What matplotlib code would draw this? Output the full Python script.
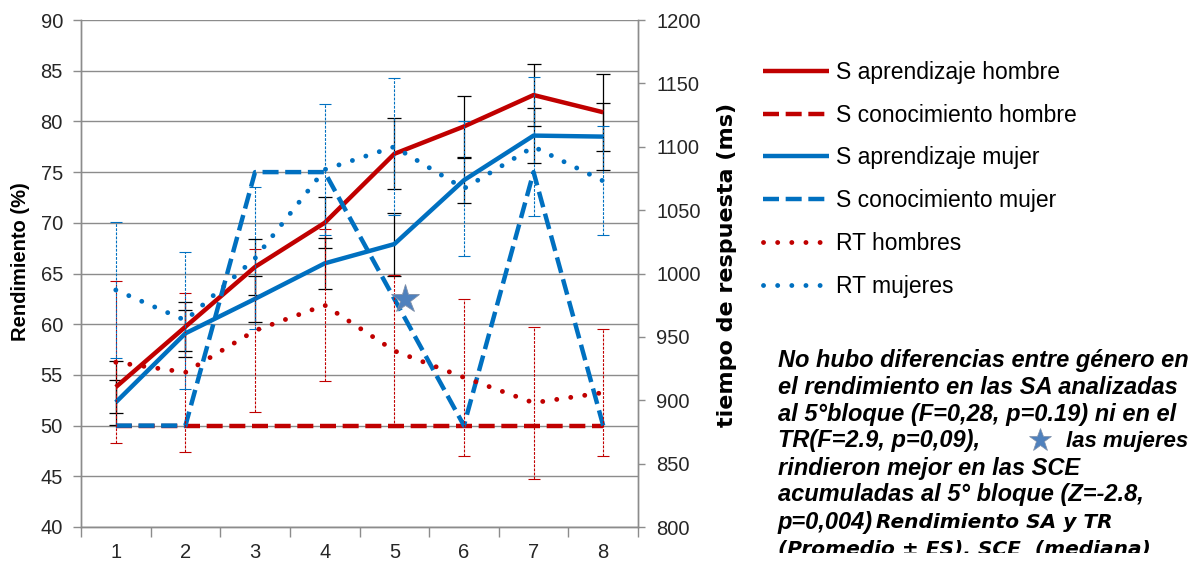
import matplotlib
matplotlib.use("Agg")
import matplotlib.pyplot as plt
from matplotlib.lines import Line2D
from matplotlib.transforms import Bbox, TransformedBbox

plt.rcParams['font.family'] = ['Liberation Sans', 'DejaVu Sans']

# --- data ------------------------------------------------------------------
bloques = [1, 2, 3, 4, 5, 6, 7, 8]

sa_hombre = [53.8, 59.75, 65.65, 70.0, 76.8, 79.5, 82.6, 80.9]
sa_hombre_es = [2.6, 2.4, 2.75, 2.5, 3.5, 3.0, 3.1, 3.8]
sce_hombre = [50, 50, 50, 50, 50, 50, 50, 50]
sa_mujer = [52.3, 59.1, 62.5, 66.0, 67.9, 74.2, 78.6, 78.5]
sa_mujer_es = [2.2, 2.3, 2.3, 2.5, 3.1, 2.2, 2.7, 3.3]
sce_mujer = [50, 50, 75, 75, 62.5, 50, 75, 50]

# tiempo de respuesta (ms), eje derecho
rt_hombres = [930, 922, 955, 975, 939, 918, 898, 906]
rt_hombres_es = [64, 63, 64, 60, 60, 62, 60, 50]
rt_mujeres = [987, 963, 1012, 1082, 1100, 1067, 1100, 1073]
rt_mujeres_es = [54, 54, 56, 52, 54, 53, 55, 43]

star_bloque = 5.16
star_ms = 980

nota = [
    "No hubo diferencias entre género en",
    "el rendimiento en las SA analizadas",
    "al 5°bloque (F=0,28, p=0.19) ni en el",
    "TR(F=2.9, p=0,09),",
    "rindieron mejor en las SCE",
    "acumuladas al 5° bloque (Z=-2.8,",
    "p=0,004)",
]

RED = '#C00000'
BLUE = '#0070C0'
GRAY = '#8C8C8C'
DOTS = (0, (0.01, 2.9))

W, H = 1192, 564


def px(x, y):
    return x / W, 1 - y / H


fig = plt.figure(figsize=(W / 100, H / 100), dpi=100)
ax = fig.add_axes([81 / W, 1 - 527 / H, (638 - 81) / W, (527 - 20) / H])
ax2 = ax.twinx()

# error bars (black) for S aprendizaje
for vals, errs in [(sa_hombre, sa_hombre_es), (sa_mujer, sa_mujer_es)]:
    ax.errorbar(bloques, vals, yerr=errs, fmt='none', ecolor='black',
                elinewidth=0.9, capsize=5, capthick=0.9, zorder=2)

l1, = ax.plot(bloques, sa_hombre, color=RED, lw=3.2, zorder=3,
              solid_capstyle='butt', label='S aprendizaje hombre')
l2, = ax.plot(bloques, sce_hombre, color=RED, lw=3.2, zorder=3,
              dashes=(3.6, 1.5), label='S conocimiento hombre')
l3, = ax.plot(bloques, sa_mujer, color=BLUE, lw=3.2, zorder=3,
              solid_capstyle='butt', label='S aprendizaje mujer')
l4, = ax.plot(bloques, sce_mujer, color=BLUE, lw=3.2, zorder=3,
              dashes=(3.6, 1.5), label='S conocimiento mujer')

# RT on the right axis
for vals, errs, c in [(rt_hombres, rt_hombres_es, RED), (rt_mujeres, rt_mujeres_es, BLUE)]:
    eb = ax2.errorbar(bloques, vals, yerr=errs, fmt='none', ecolor=c,
                      elinewidth=0.8, capsize=4.5, capthick=0.8, zorder=2)
    eb[2][0].set_linestyle((0, (2.5, 1.2)))

l5, = ax2.plot(bloques, rt_hombres, color=RED, lw=3.5, zorder=3,
               linestyle=DOTS, dash_capstyle='round', label='RT hombres')
l6, = ax2.plot(bloques, rt_mujeres, color=BLUE, lw=3.5, zorder=3,
               linestyle=DOTS, dash_capstyle='round', label='RT mujeres')

ax2.plot([star_bloque], [star_ms], marker='*', ms=21, color='#4F81BD',
         mec='#7F8FA8', mew=0.6, zorder=5)

# axes styling
ax.set_xlim(0.5, 8.5)
ax.set_ylim(40, 90)
ax.set_yticks(range(40, 91, 5))
ax2.set_ylim(800, 1200)
ax2.set_yticks(range(800, 1201, 50))
ax.grid(axis='y', color=GRAY, lw=1.0)
ax.set_axisbelow(True)

ax.set_xticks(bloques)
ax.set_xticks([b + 0.5 for b in [0] + bloques], minor=True)
ax.tick_params(axis='x', which='major', length=0, pad=11.5, labelsize=14.5, colors='#262626')
ax.tick_params(axis='x', which='minor', length=7, width=1, color=GRAY, direction='out')
ax.tick_params(axis='y', length=6, width=1, color=GRAY, pad=7, labelsize=14.5, labelcolor='#262626')
ax2.tick_params(axis='y', length=5, width=1, color=GRAY, pad=8, labelsize=14.5, labelcolor='#262626')

for a in (ax, ax2):
    a.spines['top'].set_visible(False)
    for s in ('left', 'right', 'bottom'):
        a.spines[s].set_color(GRAY)
        a.spines[s].set_linewidth(1.0)

# axis titles
fig.text(*px(21, 262), 'Rendimiento (%)', rotation=90, ha='center', va='center',
         fontsize=14.5, fontweight='bold')
fig.text(*px(727, 265), 'tiempo de respuesta (ms)', rotation=90, ha='center', va='center',
         fontsize=16, fontweight='bold', family='DejaVu Sans')

# legend
fig.legend(handles=[l1, l2, l3, l4, l5, l6], loc='upper left',
           bbox_to_anchor=px(763, 61), frameon=False, fontsize=16.5,
           handlelength=2.9, handletextpad=0.3, labelspacing=0.86,
           borderpad=0, borderaxespad=0)

# note
for i, line in enumerate(nota):
    fig.text(*px(778, 360 + 27 * i), line, ha='left', va='center',
             fontsize=17, fontweight='bold', style='italic')
fig.text(*px(1066, 441), 'las mujeres', ha='left', va='center',
         fontsize=16, fontweight='bold', style='italic')
fig.add_artist(Line2D([px(1040, 440)[0]], [px(1040, 440)[1]], marker='*', ms=17,
                      color='#4F81BD', mec='#7F8FA8', mew=0.5, transform=fig.transFigure))
fig.text(*px(876, 522), 'Rendimiento SA y TR', ha='left', va='center',
         fontsize=14.5, fontweight='bold', style='italic', family='DejaVu Sans')
last = fig.text(*px(778, 549), '(Promedio ± ES), SCE  (mediana)', ha='left', va='center',
                fontsize=14.5, fontweight='bold', style='italic', family='DejaVu Sans')
clip = TransformedBbox(Bbox([[0, 1 - 553 / H], [1, 1]]), fig.transFigure)
last.set_clip_box(clip)
last.set_clip_on(True)

fig.savefig('out.png', dpi=100)
